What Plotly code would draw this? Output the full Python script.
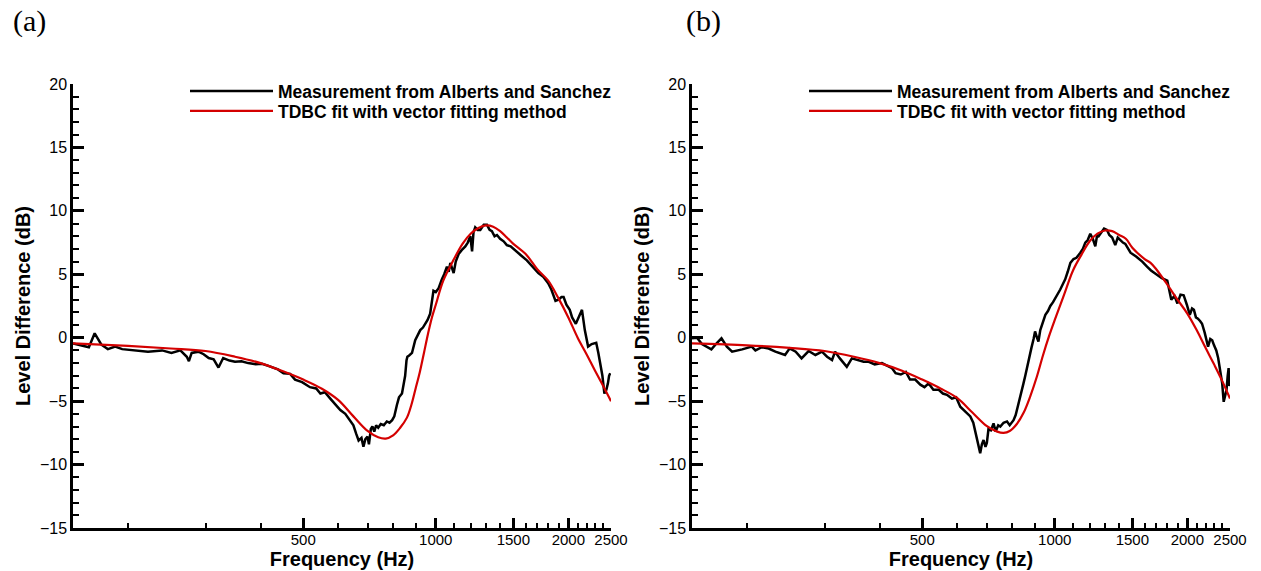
import plotly.graph_objects as go
import math

# ---------------- data ----------------
# Panel (a) measurement
freq_a_meas = [150, 158, 163, 168, 174, 180, 187, 194, 207, 222, 239, 251, 263, 272, 275, 279, 289, 297,
               305, 313, 321, 329, 340, 350, 362, 375, 390, 403, 415, 424, 438, 451, 467, 479, 497, 518,
               535, 547, 560, 576, 590, 607, 623, 639, 650, 660, 668, 678, 685, 692, 700, 705, 712, 718,
               725, 732, 740, 750, 762, 774, 785, 796, 805, 816, 825, 838, 846, 852, 858, 862, 870, 883,
               898, 910, 922, 935, 946, 958, 971, 980, 988, 1000, 1015, 1032, 1045, 1060, 1070, 1079, 1090,
               1098, 1110, 1127, 1145, 1167, 1182, 1198, 1209, 1218, 1229, 1245, 1262, 1285, 1307, 1325,
               1341, 1360, 1377, 1400, 1426, 1450, 1479, 1520, 1560, 1610, 1660, 1710, 1754, 1800, 1830,
               1870, 1900, 1930, 1951, 1980, 2015, 2040, 2080, 2110, 2148, 2180, 2218, 2260, 2314, 2340,
               2364, 2390, 2415, 2440, 2460, 2475, 2490]
level_a_meas = [-0.45, -0.6, -0.75, 0.35, -0.55, -0.9, -0.7, -0.9, -1.0, -1.1, -1.0, -1.2, -1.0, -1.5, -1.85,
                -1.2, -1.1, -1.3, -1.6, -1.7, -2.35, -1.6, -1.8, -1.9, -1.85, -2.0, -2.1, -2.05, -2.2, -2.3,
                -2.5, -2.8, -2.85, -3.3, -3.5, -3.9, -4.0, -4.4, -4.3, -4.8, -5.2, -5.7, -6.0, -6.5, -6.9,
                -7.6, -8.1, -7.9, -8.6, -8.0, -7.8, -8.4, -7.2, -7.0, -7.4, -6.9, -7.1, -6.8, -6.9, -6.6,
                -6.7, -6.5, -6.2, -5.3, -4.7, -4.4, -3.6, -3.0, -1.8, -1.5, -1.4, -1.2, -0.2, 0.2, 0.6, 0.8,
                1.1, 1.4, 1.9, 2.8, 3.7, 3.6, 3.9, 4.6, 5.0, 5.6, 5.2, 5.9, 5.5, 5.1, 6.0, 6.6, 6.9, 7.2,
                7.5, 8.0, 6.8, 8.3, 8.7, 8.5, 8.5, 8.9, 8.9, 8.5, 8.4, 8.0, 8.1, 7.8, 7.6, 7.3, 7.2, 6.8,
                6.5, 6.1, 5.6, 5.1, 4.8, 4.3, 3.8, 2.9, 3.0, 3.2, 3.2, 2.6, 2.2, 1.6, 1.1, 1.6, 2.2, 0.6,
                -0.7, -0.5, -0.4, -1.2, -2.0, -3.0, -4.4, -4.1, -3.6, -3.0, -2.8]

# Panel (a) TDBC fit
freq_a_fit = [150, 200, 250, 300, 350, 400, 450, 500, 550, 600, 650, 700, 740, 770, 800, 830, 860, 880,
              900, 920, 940, 960, 980, 1000, 1040, 1100, 1150, 1200, 1250, 1300, 1350, 1400, 1450, 1500,
              1600, 1700, 1800, 1900, 2000, 2100, 2200, 2300, 2400, 2500]
level_a_fit = [-0.45, -0.65, -0.85, -1.05, -1.5, -2.0, -2.65, -3.3, -4.0, -4.9, -6.2, -7.35, -7.85, -7.95,
               -7.7, -7.1, -6.3, -5.3, -4.0, -2.7, -1.2, 0.3, 1.6, 2.6, 4.5, 6.2, 7.4, 8.2, 8.65, 8.85,
               8.75, 8.4, 7.9, 7.4, 6.6, 5.4, 4.5, 3.1, 1.6, 0.0, -1.3, -2.6, -3.8, -5.0]

# Panel (b) measurement
freq_b_meas = [150, 154, 158, 166, 171, 175, 180, 185, 195, 205, 209, 216, 224, 232, 244, 250, 258, 266,
               276, 286, 296, 304, 312, 317, 325, 337, 346, 358, 368, 378, 390, 405, 416, 427, 435, 447,
               459, 469, 482, 495, 506, 517, 530, 545, 557, 569, 584, 597, 610, 625, 643, 653, 660, 666,
               672, 677, 683, 689, 696, 701, 707, 716, 726, 734, 744, 752, 765, 779, 790, 806, 815, 828,
               840, 849, 857, 865, 875, 885, 895, 902, 911, 918, 927, 940, 952, 965, 977, 991, 1003, 1016,
               1029, 1042, 1056, 1070, 1085, 1103, 1120, 1143, 1158, 1173, 1188, 1204, 1220, 1236, 1248,
               1258, 1275, 1294, 1314, 1330, 1350, 1372, 1390, 1409, 1428, 1446, 1486, 1530, 1580, 1620,
               1654, 1700, 1750, 1801, 1839, 1870, 1899, 1930, 1962, 1995, 2026, 2050, 2070, 2092, 2114,
               2140, 2160, 2190, 2229, 2255, 2278, 2300, 2327, 2350, 2377, 2400, 2419, 2437, 2455, 2470,
               2482, 2492, 2500]
level_b_meas = [-0.05, 0.0, -0.5, -0.92, -0.4, -0.05, -0.7, -1.1, -0.92, -0.7, -1.0, -0.75, -0.85, -1.1,
                -1.36, -0.84, -1.1, -1.63, -1.05, -1.36, -1.1, -1.5, -1.76, -1.1, -1.63, -2.3, -1.63, -1.76,
                -1.9, -1.9, -2.1, -2.0, -2.2, -2.4, -2.8, -2.9, -2.7, -3.3, -3.3, -3.7, -3.9, -3.6, -4.1,
                -4.1, -4.4, -4.5, -4.8, -4.7, -5.44, -5.8, -6.2, -6.7, -7.4, -8.1, -8.8, -9.1, -8.4, -8.07,
                -8.6, -8.3, -7.2, -7.3, -6.75, -7.4, -6.9, -7.0, -6.7, -6.6, -6.9, -6.5, -6.1, -5.2, -4.3,
                -3.6, -3.0, -2.3, -1.5, -0.8, -0.1, 0.5, 0.0, -0.3, 0.6, 1.2, 1.8, 2.1, 2.5, 2.8, 3.1, 3.5,
                3.8, 4.2, 4.6, 5.2, 5.9, 6.2, 6.3, 6.7, 7.0, 7.5, 7.7, 8.2, 7.8, 7.2, 8.1, 8.0, 8.3, 8.6,
                8.5, 8.1, 7.9, 7.3, 7.9, 7.7, 7.5, 7.4, 6.7, 6.4, 6.0, 5.6, 5.3, 5.0, 4.7, 4.5, 3.0, 3.3,
                2.7, 3.4, 3.35, 2.6, 1.8, 2.3, 2.2, 1.6, 1.5, 1.3, 1.1, 0.4, -0.7, -0.1, -0.2, -0.6, -1.0,
                -1.6, -2.6, -3.6, -5.05, -4.5, -4.1, -3.0, -2.4, -3.8, -3.6]

# Panel (b) TDBC fit
freq_b_fit = [150, 200, 250, 300, 350, 400, 450, 500, 550, 600, 650, 700, 740, 765, 790, 820, 850, 880,
              910, 940, 970, 1000, 1050, 1100, 1150, 1200, 1250, 1300, 1350, 1400, 1450, 1500, 1600, 1650,
              1700, 1800, 1900, 2000, 2100, 2200, 2300, 2400, 2500]
level_b_fit = [-0.45, -0.6, -0.8, -1.05, -1.5, -2.0, -2.6, -3.3, -4.0, -4.75, -5.9, -6.95, -7.4, -7.5,
               -7.35, -6.8, -5.9, -4.6, -3.1, -1.4, 0.1, 1.4, 3.4, 5.3, 6.55, 7.6, 8.2, 8.45, 8.4, 8.1,
               7.8, 7.1, 6.2, 5.9, 5.4, 4.2, 3.0, 1.9, 0.6, -0.8, -2.1, -3.4, -4.8]

major_x_ticks = [500, 1000, 1500, 2000, 2500]
minor_x_ticks = [200, 300, 400, 600, 700, 800, 900, 1100, 1200, 1300, 1400, 1600, 1700, 1800, 1900,
                 2100, 2200, 2300, 2400]
series_names = ["Measurement from Alberts and Sanchez", "TDBC fit with vector fitting method"]
panel_labels = ["(a)", "(b)"]

# ---------------- style / geometry (pixels) ----------------
W, H = 1261, 571
PL, PR, PT, PB = 73, 1230, 84, 528          # outer box of both panels
A_X1, B_X0 = 611, 692                       # right edge of (a), left edge of (b)
BLACK = "#000000"
RED = "#d40000"
SANS = "Liberation Sans, Arial, sans-serif"
SERIF = "Liberation Serif, Times New Roman, serif"
PW, PH = PR - PL, PB - PT

def fx(p):   # pixel x -> paper x
    return (p - PL) / PW

def fy(p):   # pixel y -> paper y
    return (PB - p) / PH

fig = go.Figure()

panels = [
    (freq_a_meas, level_a_meas, freq_a_fit, level_a_fit, "x", "y", ("legend", "legend2")),
    (freq_b_meas, level_b_meas, freq_b_fit, level_b_fit, "x2", "y2", ("legend3", "legend4")),
]
for fm, lm, ff, lf, xa, ya, lgs in panels:
    fig.add_trace(go.Scatter(x=fm, y=lm, mode="lines", name=series_names[0],
                             line=dict(color=BLACK, width=2.5), xaxis=xa, yaxis=ya, legend=lgs[0]))
    fig.add_trace(go.Scatter(x=ff, y=lf, mode="lines", name=series_names[1],
                             line=dict(color=RED, width=2.2, shape="spline"), xaxis=xa, yaxis=ya,
                             legend=lgs[1]))

x_common = dict(
    type="log", range=[math.log10(150), math.log10(2500)], automargin=False,
    tickmode="array", tickvals=major_x_ticks, ticktext=[str(v) for v in major_x_ticks],
    ticks="inside", ticklen=10, tickwidth=2.5, tickcolor=BLACK, ticklabelstandoff=-4,
    minor=dict(tickmode="array", tickvals=minor_x_ticks, ticks="inside", ticklen=5,
               tickwidth=1.5, tickcolor=BLACK, showgrid=False),
    showline=True, linecolor=BLACK, linewidth=2.5, showgrid=False, zeroline=False,
    tickfont=dict(family=SANS, size=15, color=BLACK),
    title=dict(text="Frequency (Hz)", font=dict(family=SANS, size=20, color=BLACK, weight="bold"),
               standoff=5),
)
y_common = dict(
    range=[-15, 20], tickmode="linear", tick0=-15, dtick=5, automargin=False,
    ticks="inside", ticklen=11, tickwidth=2.5, tickcolor=BLACK,
    minor=dict(dtick=1, ticks="inside", ticklen=6, tickwidth=1.5, tickcolor=BLACK, showgrid=False),
    showline=True, linecolor=BLACK, linewidth=2.5, showgrid=False, zeroline=False,
    tickfont=dict(family=SANS, size=16, color=BLACK),
    title=dict(text="Level Difference (dB)", font=dict(family=SANS, size=20, color=BLACK, weight="bold"),
               standoff=4),
)

legend_font = dict(family=SANS, size=17.5, color=BLACK, weight="bold")

def legend_at(px, py):
    return dict(x=fx(px), y=fy(py), xanchor="left", yanchor="middle", bgcolor="rgba(0,0,0,0)",
                font=legend_font, itemwidth=83, tracegroupgap=0)

fig.update_layout(
    template="none",
    width=W, height=H, autosize=False,
    margin=dict(l=PL, r=W - PR, t=PT, b=H - PB, pad=0),
    paper_bgcolor="white", plot_bgcolor="white",
    xaxis=dict(domain=[0, fx(A_X1)], anchor="y", **x_common),
    yaxis=dict(domain=[0, 1], anchor="x", **y_common),
    xaxis2=dict(domain=[fx(B_X0), 1], anchor="y2", **x_common),
    yaxis2=dict(domain=[0, 1], anchor="x2", **y_common),
    legend=legend_at(185, 91),
    legend2=legend_at(185, 111),
    legend3=legend_at(804, 91),
    legend4=legend_at(804, 111),
    showlegend=True,
)

for lbl, xc in zip(panel_labels, [29.5, 703]):
    fig.add_annotation(text=lbl, xref="paper", yref="paper", x=fx(xc), y=fy(21),
                       xanchor="center", yanchor="middle", showarrow=False,
                       font=dict(family=SERIF, size=30, color=BLACK))

fig.write_html("out.html")
